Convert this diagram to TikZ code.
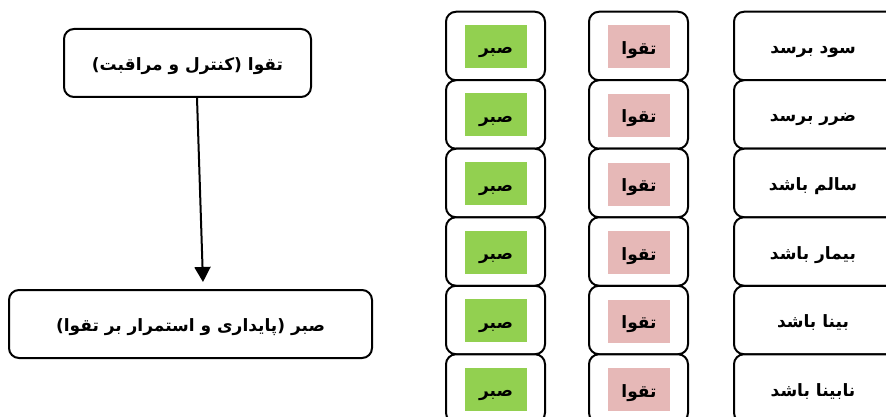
\documentclass[tikz,border=0pt]{standalone}
\usepackage{fontspec}
\TeXXeTstate=1
\newfontfamily\arabicfont[Script=Arabic]{DejaVu Sans}
\usetikzlibrary{arrows.meta}
\definecolor{sabrgreen}{HTML}{92D050}
\definecolor{taqwapink}{HTML}{E6B8B7}
\tikzset{
  bigtext/.style={font=\arabicfont\bfseries\fontsize{17}{19}\selectfont},
  rbox/.style={draw=black, line width=2pt, rounded corners=10pt, fill=white, inner sep=0pt, bigtext, text height=15pt, text depth=0pt},
  cell/.style={rbox, minimum width=99pt, minimum height=68.5pt},
  inner/.style={minimum width=62pt, minimum height=43pt, inner sep=0pt, bigtext, text height=15pt, text depth=0pt},
  sabr/.style={inner, fill=sabrgreen},
  taqwa/.style={inner, fill=taqwapink},
  flow/.style={line width=2pt, -{Triangle[length=15pt,width=16pt]}}
}
\begin{document}
\begin{tikzpicture}[x=1pt,y=-1pt]
\useasboundingbox (0,0) rectangle (886,417);
\begin{scope}
\clip (0,0) rectangle (886,417);
% left flow
\node[rbox, minimum width=247pt, minimum height=68pt] (top) at (187.5,63) {\beginR تقوا (کنترل و مراقبت)\endR};
\node[rbox, minimum width=363pt, minimum height=68pt] (bot) at (190.5,324) {\beginR صبر (پایداری و استمرار بر تقوا)\endR};
\coordinate (tip) at (203,282);
\draw[flow] ([xshift=9.5pt]top.south) -- (tip);
% right grid
\foreach \i/\y/\t in {1/46/سود برسد, 2/114.5/ضرر برسد, 3/183/سالم باشد, 4/251.5/بیمار باشد, 5/320/بینا باشد, 6/388.5/نابینا باشد}{
  \node[cell] (c\i) at (495.5,\y) {};
  \node[sabr] (s\i) at (496,\y+0.5) {\beginR صبر\endR};
  \node[cell] (d\i) at (638.5,\y) {};
  \node[taqwa] (q\i) at (639,\y+1) {\beginR تقوا\endR};
  \node[rbox, minimum width=170pt, minimum height=68.5pt, align=center] (e\i) at (819,\y) {\hspace*{-12pt}\beginR \t\endR};
}
\end{scope}
\end{tikzpicture}
\end{document}
